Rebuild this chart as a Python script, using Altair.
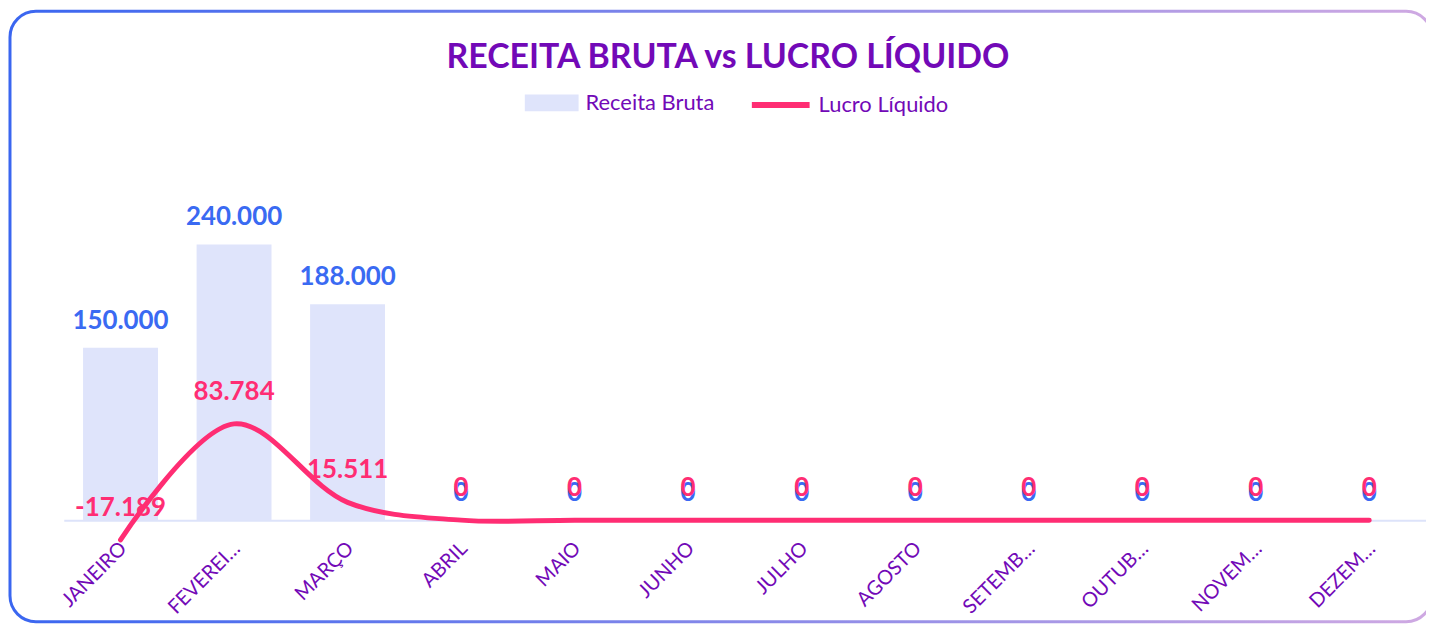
import altair as alt
import pandas as pd

meses = ["JANEIRO", "FEVEREI…", "MARÇO", "ABRIL", "MAIO", "JUNHO", "JULHO",
         "AGOSTO", "SETEMB…", "OUTUB…", "NOVEM…", "DEZEM…"]
receita_bruta = [150000, 240000, 188000, 0, 0, 0, 0, 0, 0, 0, 0, 0]
lucro_liquido = [-17189, 83784, 15511, 0, 0, 0, 0, 0, 0, 0, 0, 0]

PURPLE = "#7209b7"
BAR = "#dfe4fb"
BLUE = "#3a6af2"
PINK = "#ff2d73"
FONT = "Lato"

df = pd.DataFrame({
    "mes": meses,
    "receita": receita_bruta,
    "lucro": lucro_liquido,
    "serie_r": ["Receita Bruta"] * len(meses),
    "serie_l": ["Lucro Líquido"] * len(meses),
})

fmt_r = "replace(replace(format(datum.receita, ','), ',', '.'), '\u2212', '-')"
fmt_l = "replace(replace(format(datum.lucro, ','), ',', '.'), '\u2212', '-')"

base = alt.Chart(df).transform_calculate(label_r=fmt_r, label_l=fmt_l)

x_enc = alt.X(
    "mes:N", sort=meses, title=None,
    scale=alt.Scale(paddingInner=0.34, paddingOuter=0.17),
    axis=alt.Axis(labelAngle=-45, domainColor="#dde3fa", domainWidth=2, ticks=False,
                  labelColor=PURPLE, labelFont=FONT, labelFontSize=20, labelPadding=18,
                  labelOffset=-4),
)
y_scale = alt.Scale(domain=[0, 260000], nice=False, zero=True)

frame = alt.Chart(pd.DataFrame({"k": [0]})).mark_rect(
    cornerRadius=26, fillOpacity=0, strokeWidth=3
).encode(
    x=alt.value(-54), x2=alt.value(1374), y=alt.value(-211), y2=alt.value(402),
    stroke=alt.value({
        "gradient": "linear", "x1": 0, "x2": 1, "y1": 0, "y2": 0,
        "stops": [{"offset": 0, "color": "#3a66f0"}, {"offset": 1, "color": "#cfa9e2"}],
    }),
)

bars = base.mark_bar().encode(
    x=x_enc,
    y=alt.Y("receita:Q", scale=y_scale, axis=None),
    fill=alt.Fill("serie_r:N", scale=alt.Scale(domain=["Receita Bruta"], range=[BAR]),
                  legend=alt.Legend(title=None, orient="none", legendX=462, legendY=-147,
                                    symbolType="M-1,-0.31H1V0.31H-1Z", symbolSize=2916,
                                    symbolOpacity=1,
                                    labelColor=PURPLE, labelFont=FONT, labelFontSize=22,
                                    labelOffset=6)),
)

line = base.mark_line(interpolate="catmull-rom", strokeWidth=5, strokeCap="round").encode(
    x=x_enc,
    y=alt.Y("lucro:Q", scale=y_scale, axis=None),
    stroke=alt.Stroke("serie_l:N", scale=alt.Scale(domain=["Lucro Líquido"], range=[PINK]),
                      legend=alt.Legend(title=None, orient="none", legendX=688, legendY=-149,
                                        symbolType="stroke", symbolSize=3364,
                                        symbolStrokeWidth=6,
                                        labelColor=PURPLE, labelFont=FONT, labelFontSize=22,
                                        labelOffset=6)),
)

bar_text = base.mark_text(
    dy=-19, baseline="alphabetic", font=FONT, fontWeight="bold", fontSize=26, color=BLUE
).encode(x=x_enc, y=alt.Y("receita:Q", scale=y_scale, axis=None), text="label_r:N")

line_text = base.mark_text(
    dy=-24, baseline="alphabetic", font=FONT, fontWeight="bold", fontSize=26, color=PINK
).encode(x=x_enc, y=alt.Y("lucro:Q", scale=y_scale, axis=None), text="label_l:N")

chart = alt.layer(frame, bars, line, bar_text, line_text).properties(
    width=1368, height=300,
    padding={"left": 56, "top": 213, "right": 0, "bottom": 104},
    autosize=alt.AutoSizeParams(type="none"),
    title=alt.Title("RECEITA BRUTA vs LUCRO LÍQUIDO", font=FONT, fontSize=34,
                    fontWeight="bold", color=PURPLE, anchor="middle", baseline="alphabetic",
                    offset=-92, dx=-17),
).configure_view(strokeWidth=0)

chart.save("out.html", embed_options={"renderer": "svg", "actions": False})
